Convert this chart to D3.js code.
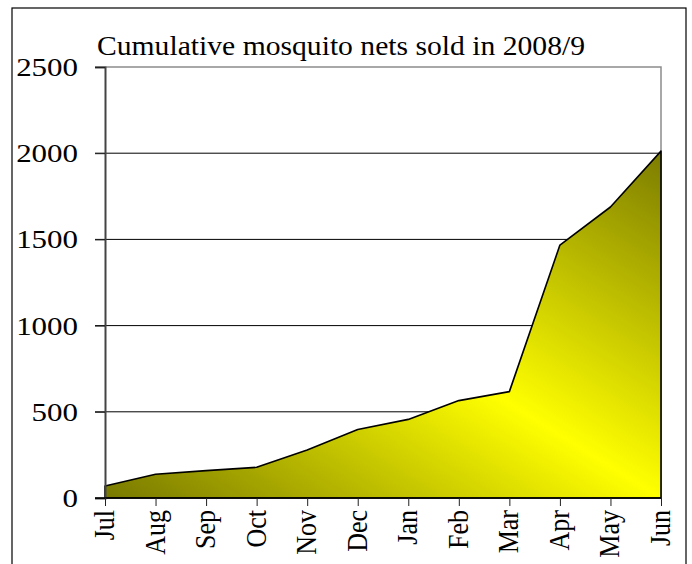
<!DOCTYPE html>
<html>
<head>
<meta charset="utf-8">
<script src="https://cdn.jsdelivr.net/npm/d3@7"></script>
<style>
  body { margin: 0; background: #fff; }
</style>
</head>
<body>
<script>
var months = ["Jul","Aug","Sep","Oct","Nov","Dec","Jan","Feb","Mar","Apr","May","Jun"],
    sold = [70, 138, 159, 178, 279, 397, 456, 565, 617, 1467, 1688, 2012],
    yTicks = [0, 500, 1000, 1500, 2000, 2500],
    title = "Cumulative mosquito nets sold in 2008/9";

var width = 692,
    height = 564,
    pLeft = 105, pRight = 661, pTop = 67, pBottom = 498,
    stretch = 1.19,
    serif = "'Liberation Serif', 'Times New Roman', Times, serif";

var xSc = d3.scalePoint()
    .domain(months)
    .range([pLeft, pRight]),
    ySc = d3.scaleLinear()
    .domain([0, 2500])
    .range([pBottom, pTop]);

var svg = d3.select("body").append("svg")
  .attr("width", width)
  .attr("height", height)
  .style("font-family", serif);

// gradient: dark olive in corners, bright yellow along the diagonal
var grad = svg.append("defs").append("linearGradient")
  .attr("id", "fillGrad")
  .attr("x1", 0).attr("y1", 1)
  .attr("x2", 1).attr("y2", 0);
grad.append("stop").attr("offset", "0%").attr("stop-color", "#787800");
grad.append("stop").attr("offset", "50%").attr("stop-color", "#ffff00");
grad.append("stop").attr("offset", "100%").attr("stop-color", "#7c7c00");

// outer frame
svg.append("rect")
  .attr("x", 12).attr("y", 8)
  .attr("width", 674).attr("height", 600)
  .attr("fill", "none")
  .attr("stroke", "#000")
  .attr("stroke-width", 1.2);

// grid lines
svg.selectAll("line.grid")
  .data(yTicks.filter(function(d) { return d > 0 && d < 2500; }))
  .enter()
    .append("line")
    .attr("class", "grid")
    .attr("x1", pLeft - 10).attr("x2", pRight)
    .attr("y1", function(d) { return ySc(d); })
    .attr("y2", function(d) { return ySc(d); })
    .attr("stroke", "#000")
    .attr("stroke-width", 1);

// plot border top / right
svg.append("path")
  .attr("d", "M" + (pLeft - 10) + "," + ySc(2500) + "H" + pRight + "V" + ySc(0))
  .attr("fill", "none")
  .attr("stroke", "#8c8c8c")
  .attr("stroke-width", 1.5);

// area
var area = d3.area()
  .x(function(d, i) { return xSc(months[i]); })
  .y0(ySc(0))
  .y1(function(d) { return ySc(d); });

svg.append("path")
  .datum(sold)
  .attr("d", area)
  .attr("fill", "url(#fillGrad)")
  .attr("stroke", "#000")
  .attr("stroke-width", 1.6)
  .attr("stroke-linejoin", "round");

// y axis
var yAxis = d3.axisLeft(ySc).tickValues(yTicks).tickSize(10).tickFormat("");
var gy = svg.append("g")
  .attr("transform", "translate(" + pLeft + ",0)")
  .call(yAxis);
gy.select(".domain").attr("stroke", "#444").attr("stroke-width", 2);
gy.selectAll(".tick line").attr("stroke", "#222");

svg.selectAll("text.ylab")
  .data(yTicks)
  .enter()
    .append("text")
    .attr("class", "ylab")
    .attr("transform", function(d) {
      return "translate(78," + (ySc(d) + 9) + ") scale(" + stretch + ",1)";
    })
    .attr("text-anchor", "end")
    .style("font-family", serif)
    .style("font-size", "26px")
    .text(function(d) { return d; });

// x axis
var xAxis = d3.axisBottom(xSc).tickSize(8).tickFormat("");
var gx = svg.append("g")
  .attr("transform", "translate(0," + pBottom + ")")
  .call(xAxis);
gx.select(".domain").attr("d", "M" + (pLeft - 10) + ",0H" + pRight).attr("stroke", "#000").attr("stroke-width", 1.5);
gx.selectAll(".tick line").attr("stroke", "#222");

svg.selectAll("text.xlab")
  .data(months)
  .enter()
    .append("text")
    .attr("class", "xlab")
    .attr("transform", function(d) {
      return "translate(" + (xSc(d) + 9) + ",510) rotate(-90) scale(1,1.12)";
    })
    .attr("text-anchor", "end")
    .style("font-family", serif)
    .style("font-size", "26px")
    .text(function(d) { return d; });

// title
svg.append("text")
  .attr("x", 97)
  .attr("y", 55)
  .attr("textLength", 488)
  .attr("lengthAdjust", "spacingAndGlyphs")
  .style("font-family", serif)
  .style("font-size", "27px")
  .text(title);
</script>
</body>
</html>
